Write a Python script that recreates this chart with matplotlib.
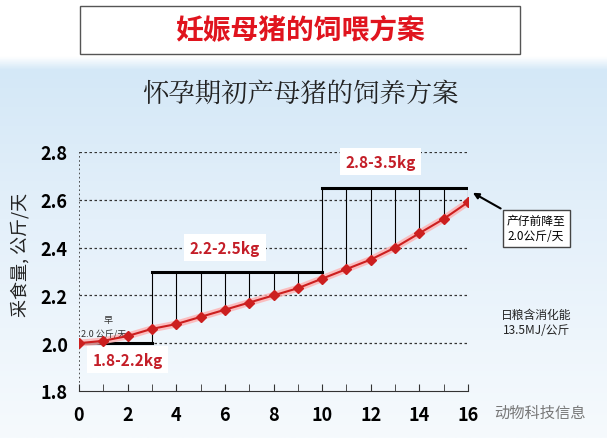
import matplotlib
matplotlib.use("Agg")
import matplotlib.pyplot as plt
import numpy as np
from matplotlib.colors import LinearSegmentedColormap

plt.rcParams['font.family'] = ['Noto Sans CJK SC', 'DejaVu Sans']

weeks = list(range(17))
intake = [2.0, 2.01, 2.03, 2.06, 2.08, 2.11, 2.14, 2.17, 2.20, 2.23, 2.27, 2.31, 2.35, 2.40, 2.46, 2.52, 2.59]
step_x = [[0, 3], [3, 10], [10, 16]]
step_y = [2.0, 2.3, 2.65]
step_labels = ['1.8-2.2kg', '2.2-2.5kg', '2.8-3.5kg']
xticks = [0, 2, 4, 6, 8, 10, 12, 14, 16]
yticks = [1.8, 2.0, 2.2, 2.4, 2.6, 2.8]

W, H = 607, 439
fig = plt.figure(figsize=(W/100, H/100), dpi=100)
bg = fig.add_axes([0, 0, 1, 1], zorder=-10)
grad = np.linspace(0, 1, 256)[:, None]
cm = LinearSegmentedColormap.from_list('g', [(0, '#ffffff'), (0.13, '#ffffff'), (0.16, '#d4e8f7'),
                                              (0.5, '#e4f0fa'), (1, '#f6fafd')])
bg.imshow(grad, aspect='auto', cmap=cm, extent=[0, 1, 0, 1])
bg.axis('off')

fig.patches.append(plt.Rectangle((80/W, 1-55/H), 440/W, 48/H, transform=fig.transFigure,
                                 facecolor='white', edgecolor='#555555', lw=1))
fig.text(300/W, 1-31/H, '妊娠母猪的饲喂方案', color='#e0141e', fontsize=20, fontweight='bold',
         ha='center', va='center')
fig.text(300/W, 1-95/H, '怀孕期初产母猪的饲养方案', color='#222222', fontsize=19,
         ha='center', va='center', family=['Noto Serif CJK SC', 'Noto Sans CJK SC'])

ax = fig.add_axes([79/W, 1-392/H, 389/W, 239/H])
ax.patch.set_alpha(0)
ax.set_xlim(0, 16)
ax.set_ylim(1.8, 2.8)
for y in yticks[1:]:
    ax.axhline(y, color='#333333', ls=(0, (2, 2)), lw=0.9, zorder=1)
ax.axvline(0, color='#333333', ls=(0, (1, 1.5)), lw=1.2)
for s in ['top', 'right', 'left']:
    ax.spines[s].set_visible(False)
ax.spines['bottom'].set_color('#333333')
ax.set_xticks(range(17), minor=True)
ax.set_xticks(xticks)
ax.tick_params(axis='x', which='both', direction='in', length=5, color='#333333')
ax.tick_params(axis='x', labelsize=13, pad=10)
ax.set_yticks(yticks)
ax.set_yticklabels([f'{v:.1f}' for v in yticks], fontsize=13, fontweight='bold')
ax.tick_params(axis='y', length=0, pad=8)
for lab in ax.get_xticklabels():
    lab.set_fontweight('bold')

for (x0, x1), y in zip(step_x, step_y):
    ax.plot([x0, x1], [y, y], color='black', lw=2.2, zorder=3)
    ax.plot([x0, x0], [y, intake[x0]], color='black', lw=0.8, zorder=2)
    for x in range(x0 + 1, x1 + 1):
        ax.plot([x, x], [y, intake[x]], color='black', lw=0.8, zorder=2)

ax.plot(weeks, intake, color='#ffb0b0', lw=5, zorder=3, alpha=0.8)
ax.plot(weeks, intake, color='#cc1f1f', lw=1.5, marker='D', ms=5, zorder=4)

bb = dict(facecolor='white', edgecolor='none', pad=4)
ax.text(2.0, 1.93, step_labels[0], color='#c41e28', fontsize=11, fontweight='bold', ha='center', va='center', bbox=bb)
ax.text(6.0, 2.4, step_labels[1], color='#c41e28', fontsize=11, fontweight='bold', ha='center', va='center', bbox=bb)
ax.text(12.4, 2.76, step_labels[2], color='#c41e28', fontsize=11, fontweight='bold', ha='center', va='center', bbox=bb)
ax.text(1.2, 2.1, '早', fontsize=6.5, ha='center', va='center', color='#333333')
ax.text(1.0, 2.04, '2.0 公斤/天', fontsize=6.5, ha='center', va='center', color='#333333')

ax.annotate('产仔前降至\n2.0公斤/天', xy=(16.1, 2.635), xytext=(18.8, 2.48),
            fontsize=8.5, ha='center', va='center', annotation_clip=False,
            bbox=dict(facecolor='white', edgecolor='#444444', pad=3),
            arrowprops=dict(arrowstyle='-|>', color='black', lw=1.5))
ax.text(18.8, 2.09, '日粮含消化能\n13.5MJ/公斤', fontsize=8.5, ha='center', va='center', color='#222222')

fig.text(20/W, 1-255/H, '采食量, 公斤/天', rotation=90, fontsize=13, ha='center', va='center', color='#222222')
fig.text(540/W, 1-413/H, '动物科技信息', fontsize=11, ha='center', va='center', color='#777777')

fig.savefig('out.png', dpi=100)
